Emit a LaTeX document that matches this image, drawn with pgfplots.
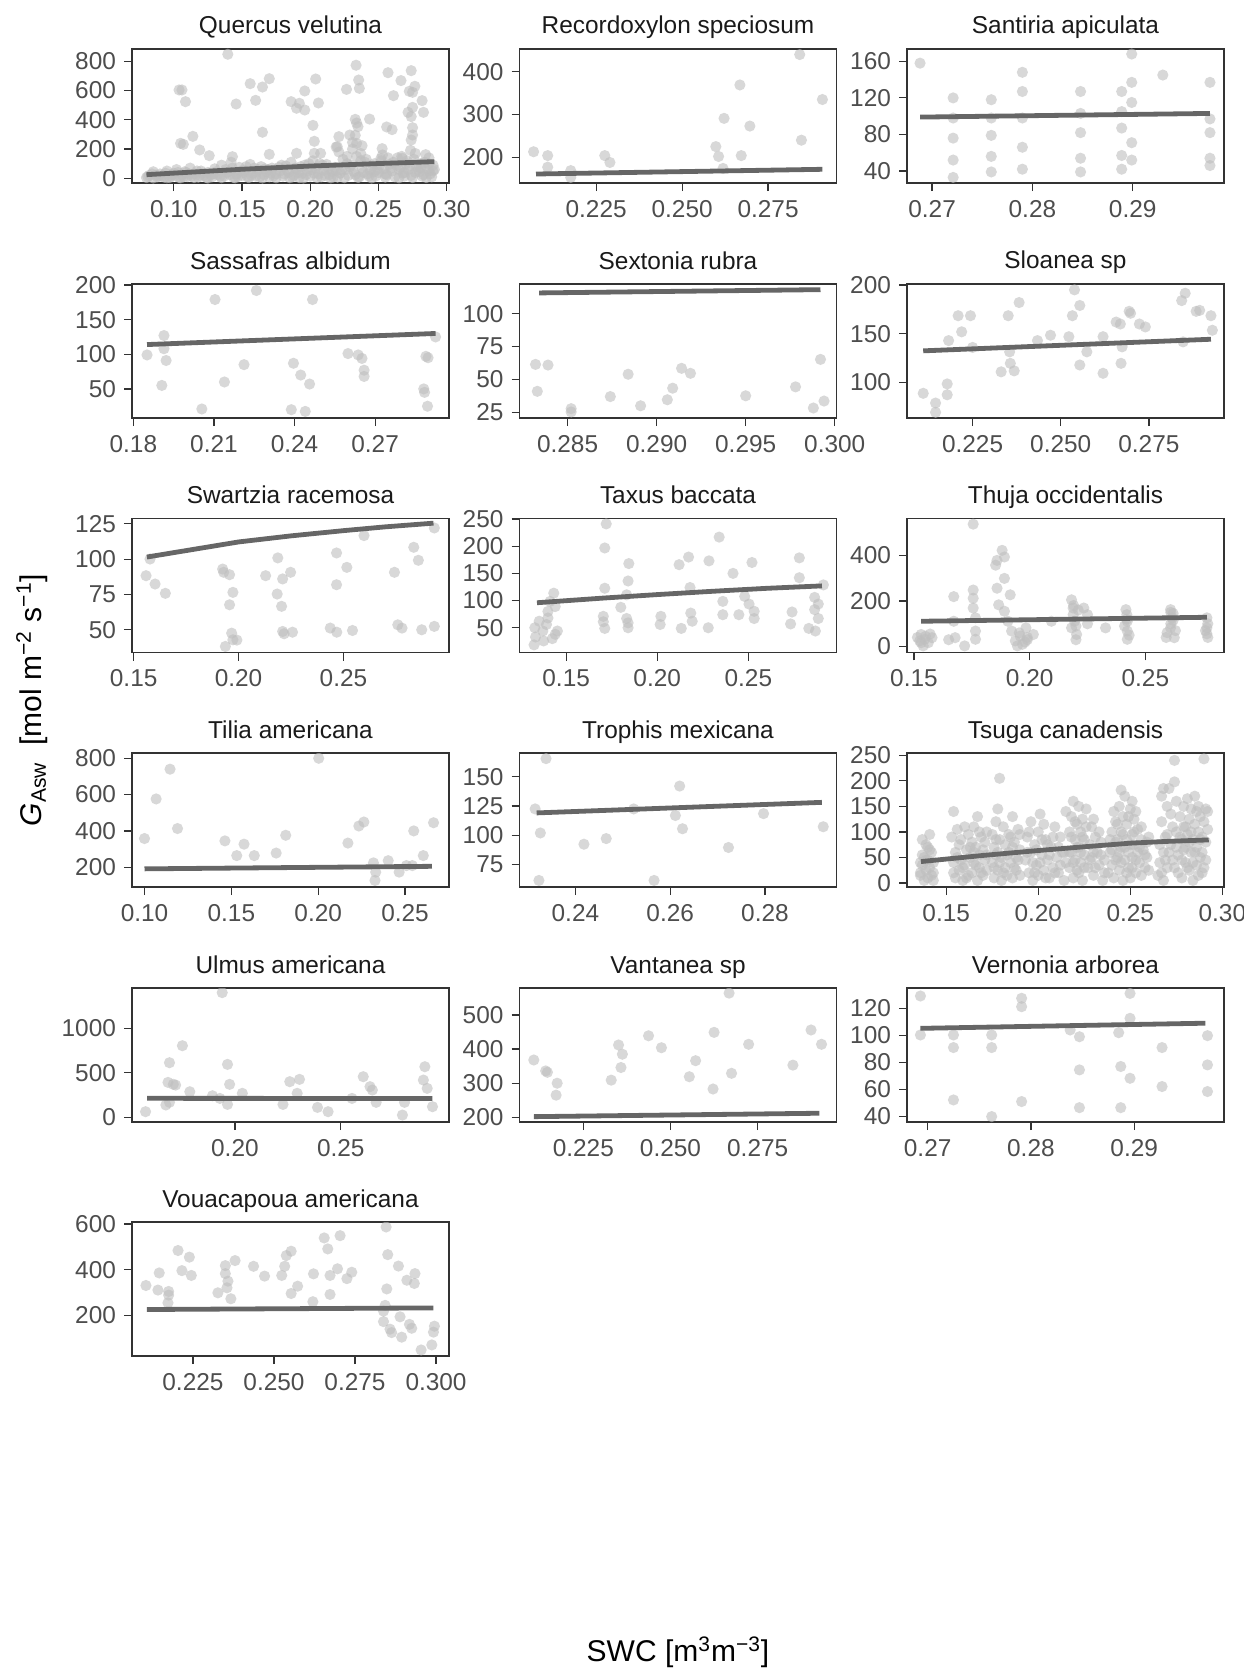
\documentclass[border=0pt]{standalone}
\usepackage{fontspec}
\setmainfont{Liberation Sans}
\usepackage{pgfplots}
\pgfplotsset{compat=1.18}

\definecolor{bordercol}{HTML}{333333}
\definecolor{ticktext}{HTML}{4D4D4D}
\definecolor{striptext}{HTML}{1A1A1A}
\definecolor{ptcol}{HTML}{BEBEBE}
\definecolor{fitcol}{HTML}{666666}

\newcommand{\smallfont}{\fontsize{12.2}{14}\selectfont}
\newcommand{\bigfont}{\fontsize{15}{18}\selectfont}

\pgfplotsset{
  facet/.style={
    scale only axis, width=158.5pt, height=67pt, anchor=north west,
    axis line style={draw=bordercol, line width=0.7pt},
    tick style={draw=bordercol, line width=0.6pt},
    tick align=outside, major tick length=4pt,
    xtick pos=lower, ytick pos=left,
    ticklabel style={font=\smallfont, text=ticktext},
    xticklabel style={yshift=-1pt},
    yticklabel style={xshift=-0.5pt},
    every axis title/.style={at={(0.5,1)}, anchor=base, yshift=7.5pt,
      font=\smallfont, text=striptext},
    clip marker paths=true,
  },
  pts/.style={only marks, mark=*, mark size=2.8pt,
    mark options={draw opacity=0, fill=ptcol, fill opacity=0.6}},
  fit/.style={no marks, fitcol, line width=2.4pt},
}

\begin{document}
\begin{tikzpicture}
\path[use as bounding box] (0,0) rectangle (621.5pt,-834.5pt);

% ---------- row 1 ----------
\begin{axis}[facet, at={(66pt,-24.5pt)}, title={Quercus velutina},
  xmin=0.0694, xmax=0.3017, ymin=-32, ymax=884,
  xtick={0.10,0.15,0.20,0.25,0.30}, xticklabels={0.10,0.15,0.20,0.25,0.30},
  ytick={0,200,400,600,800}, yticklabels={0,200,400,600,800}]
\addplot[pts] coordinates {
(0.1396,848)(0.1039,604)(0.106,604)(0.1086,524)(0.1457,508)(0.156,647)(0.160,533)
(0.165,624)(0.170,681)(0.165,315)(0.105,239)(0.107,232)(0.114,287)(0.119,194)
(0.126,155)(0.143,148)(0.170,164)(0.186,524)(0.190,479)(0.192,513)(0.196,467)
(0.196,597)(0.202,362)(0.204,679)(0.206,515)(0.203,253)(0.203,171)(0.190,171)
(0.2076,171)(0.219,214)(0.2266,608)(0.2336,773)(0.2355,672)(0.236,615)(0.233,403)
(0.234,378)(0.235,353)(0.229,296)(0.233,294)(0.231,246)(0.234,239)(0.238,223)
(0.2435,405)(0.221,285)(0.2198,216)(0.2527,203)(0.257,722)(0.261,565)(0.256,351)
(0.260,333)(0.2665,668)(0.274,736)(0.2726,595)(0.275,588)(0.2767,629)(0.2717,451)
(0.275,485)(0.282,531)(0.283,451)(0.274,422)(0.275,346)(0.275,296)(0.274,262)
(0.2735,191)(0.2846,162)(0.287,52)(0.2675,137)(0.2517,134)
(0.08,5)(0.082,20)(0.085,45)(0.088,10)(0.09,30)(0.093,8)(0.095,50)(0.098,15)
(0.10,35)(0.102,60)(0.104,5)(0.106,25)(0.108,45)(0.11,12)(0.112,70)(0.115,30)
(0.118,8)(0.12,50)(0.122,20)(0.125,40)(0.128,10)(0.13,65)(0.132,25)(0.135,90)
(0.137,15)(0.14,45)(0.142,110)(0.144,5)(0.146,30)(0.148,75)(0.15,20)(0.152,55)
(0.154,10)(0.156,95)(0.158,35)(0.16,15)(0.162,60)(0.164,80)(0.166,25)(0.168,45)
(0.17,10)(0.172,70)(0.175,30)(0.178,50)(0.18,15)(0.182,85)(0.184,40)(0.186,110)
(0.188,20)(0.19,60)(0.192,5)(0.194,35)(0.196,90)(0.198,50)(0.20,15)(0.202,120)
(0.204,70)(0.206,30)(0.208,10)(0.21,55)(0.212,95)(0.214,25)(0.216,45)(0.218,75)
(0.22,8)(0.222,35)(0.224,130)(0.226,60)(0.228,20)(0.23,90)(0.232,45)(0.234,150)
(0.236,10)(0.238,70)(0.24,110)(0.242,30)(0.244,55)(0.246,85)(0.248,15)(0.25,40)
(0.252,120)(0.254,65)(0.256,25)(0.258,95)(0.26,50)(0.262,10)(0.264,140)(0.266,75)
(0.268,35)(0.27,100)(0.272,60)(0.274,20)(0.276,130)(0.278,80)(0.28,45)(0.282,15)
(0.284,110)(0.286,65)(0.288,30)(0.29,50)(0.29,90)(0.285,5)(0.275,5)(0.265,3)
(0.255,8)(0.245,2)(0.235,6)(0.225,4)(0.215,3)(0.205,5)(0.195,2)(0.185,4)(0.175,3)
(0.165,2)(0.155,5)(0.145,3)(0.135,4)(0.125,2)(0.115,5)(0.105,3)(0.095,4)(0.085,2)
(0.221,180)(0.227,150)(0.231,200)(0.237,170)(0.241,130)(0.247,100)(0.253,160)
(0.257,140)(0.263,90)(0.267,150)(0.271,120)(0.277,170)(0.281,100)(0.287,140)
(0.279,60)(0.269,40)(0.259,70)(0.249,60)(0.239,40)(0.229,80)(0.219,50)(0.209,90)
(0.199,100)(0.189,70)(0.179,90)(0.169,60)(0.159,70)(0.149,50)(0.139,40)(0.129,30)
(0.119,20)(0.109,40)(0.099,25)(0.089,15)
(0.081,12)(0.084,30)(0.087,22)(0.091,15)(0.094,35)(0.097,5)(0.101,20)(0.103,40)
(0.107,10)(0.111,30)(0.113,15)(0.117,50)(0.121,35)(0.124,5)(0.127,25)(0.131,45)
(0.134,15)(0.138,60)(0.141,25)(0.143,70)(0.147,12)(0.151,40)(0.153,80)(0.157,20)
(0.161,45)(0.163,10)(0.167,65)(0.171,35)(0.173,15)(0.177,75)(0.181,30)(0.183,55)
(0.187,10)(0.191,40)(0.193,80)(0.197,25)(0.201,60)(0.203,35)(0.207,100)(0.211,20)
(0.213,65)(0.217,10)(0.223,55)(0.227,100)(0.233,25)(0.237,120)(0.243,15)(0.247,45)
(0.251,90)(0.255,30)(0.261,110)(0.265,60)(0.269,15)(0.273,85)(0.277,40)(0.281,70)
(0.283,25)(0.287,100)(0.289,10)(0.291,60)
};
\addplot[fit] coordinates {(0.08,25)(0.15,62)(0.20,84)(0.25,101)(0.291,114)};
\end{axis}

\begin{axis}[facet, at={(259.75pt,-24.5pt)}, title={Recordoxylon speciosum},
  xmin=0.2027, xmax=0.2949, ymin=140, ymax=453,
  xtick={0.225,0.250,0.275}, xticklabels={0.225,0.250,0.275},
  ytick={200,300,400}, yticklabels={200,300,400}]
\addplot[pts] coordinates {
(0.2068,213)(0.2109,204)(0.2109,177)(0.2176,169)(0.2176,153)(0.2275,204)(0.229,188)
(0.2598,225)(0.2606,202)(0.2622,291)(0.2619,174)(0.2668,369)(0.2672,204)(0.2697,273)
(0.2842,440)(0.2847,240)(0.2908,335)
};
\addplot[fit] coordinates {(0.2075,161)(0.2908,172)};
\end{axis}

\begin{axis}[facet, at={(453.5pt,-24.5pt)}, title={Santiria apiculata},
  xmin=0.2675, xmax=0.2991, ymin=26.9, ymax=173.5,
  xtick={0.27,0.28,0.29}, xticklabels={0.27,0.28,0.29},
  ytick={40,80,120,160}, yticklabels={40,80,120,160}]
\addplot[pts] coordinates {
(0.2688,158)(0.2721,120)(0.2721,98)(0.2721,76)(0.2721,52)(0.2721,33)
(0.2759,118)(0.2759,98)(0.2759,79)(0.2759,56)(0.2759,39)
(0.2790,148)(0.2790,127)(0.2790,98)(0.2790,66)(0.2790,42)
(0.2848,127)(0.2848,103)(0.2848,82)(0.2848,54)(0.2848,39)
(0.2889,127)(0.2889,105)(0.2889,87)(0.2889,57)(0.2889,42)
(0.2899,168)(0.2899,137)(0.2899,115)(0.2899,71)(0.2899,52)
(0.2930,145)(0.2977,137)(0.2977,97)(0.2977,82)(0.2977,54)(0.2977,46)
};
\addplot[fit] coordinates {(0.2688,99)(0.2977,103)};
\end{axis}

% ---------- row 2 ----------
\begin{axis}[facet, at={(66pt,-142pt)}, title={Sassafras albidum},
  xmin=0.1795, xmax=0.2975, ymin=8, ymax=201.4,
  xtick={0.18,0.21,0.24,0.27}, xticklabels={0.18,0.21,0.24,0.27},
  ytick={50,100,150,200}, yticklabels={50,100,150,200}]
\addplot[pts] coordinates {
(0.1851,99)(0.1914,127)(0.1914,108)(0.1922,91)(0.1906,55)(0.2104,179)(0.2055,21)
(0.2139,60)(0.2212,85)(0.2258,192)(0.2388,20)(0.2440,17.5)(0.2396,87)(0.2423,70)
(0.2456,57)(0.2467,179)(0.2599,101)(0.2637,99)(0.2651,94)(0.2659,77)(0.2659,68)
(0.2889,97)(0.2897,95)(0.2881,50)(0.2884,45)(0.2895,25)(0.2925,125)
};
\addplot[fit] coordinates {(0.1851,114)(0.2925,130)};
\end{axis}

\begin{axis}[facet, at={(259.75pt,-142pt)}, title={Sextonia rubra},
  xmin=0.2823, xmax=0.3001, ymin=20.7, ymax=122.7,
  xtick={0.285,0.290,0.295,0.300}, xticklabels={0.285,0.290,0.295,0.300},
  ytick={25,50,75,100}, yticklabels={25,50,75,100}]
\addplot[pts] coordinates {
(0.2832,61.5)(0.2839,61)(0.2833,41)(0.2852,27.8)(0.2852,25.3)(0.2874,37)(0.2884,54)
(0.2891,30)(0.2906,34.6)(0.2909,43.4)(0.2914,58.5)(0.2919,54.7)(0.2950,37.6)
(0.2978,44.4)(0.2988,28.3)(0.2992,65.3)(0.2994,33.6)
};
\addplot[fit] coordinates {(0.2834,115.9)(0.2992,118.4)};
\end{axis}

\begin{axis}[facet, at={(453.5pt,-142pt)}, title={Sloanea sp},
  xmin=0.2064, xmax=0.2963, ymin=63.7, ymax=201,
  xtick={0.225,0.250,0.275}, xticklabels={0.225,0.250,0.275},
  ytick={100,150,200}, yticklabels={100,150,200}]
\addplot[pts] coordinates {
(0.2110,89)(0.2145,79)(0.2145,69.5)(0.2178,87.5)(0.2178,98.6)(0.2182,143)(0.2219,152)
(0.2209,168.5)(0.2244,168.5)(0.2250,136)(0.2331,111)(0.2351,168.5)(0.2355,131.5)
(0.2357,119.7)(0.2368,112)(0.2382,182)(0.2434,143)(0.2471,148.5)(0.2523,147)
(0.2533,168.5)(0.2539,195)(0.2554,179)(0.2554,118)(0.2574,131.5)(0.2620,147)
(0.2620,109.5)(0.2657,162)(0.2669,160)(0.2674,136.6)(0.2671,119.7)(0.2694,173)
(0.2698,171)(0.2723,160)(0.2740,157)(0.2843,184)(0.2853,191.5)(0.2847,141.7)
(0.2884,173)(0.2894,174)(0.2926,168.5)(0.2930,153.6)
};
\addplot[fit] coordinates {(0.2110,132.5)(0.2926,144.4)};
\end{axis}

% ---------- row 3 ----------
\begin{axis}[facet, at={(66pt,-259.25pt)}, title={Swartzia racemosa},
  xmin=0.1492, xmax=0.3003, ymin=33.9, ymax=128.8,
  xtick={0.15,0.20,0.25}, xticklabels={0.15,0.20,0.25},
  ytick={50,75,100,125}, yticklabels={50,75,100,125}]
\addplot[pts] coordinates {
(0.1559,88.3)(0.1578,100.1)(0.1602,82.4)(0.1651,75.8)(0.1924,93)(0.1929,90.7)
(0.1957,89)(0.1973,76.5)(0.1957,67.7)(0.1967,47.6)(0.1973,42.9)(0.1992,42.7)
(0.1937,38.2)(0.2129,88.3)(0.2187,100.9)(0.2210,86)(0.2248,90.7)(0.2184,75.3)
(0.2205,66.6)(0.2210,48.8)(0.2217,47.2)(0.2257,48.3)(0.2467,104.4)(0.2516,94.2)
(0.2467,81.9)(0.2437,51.2)(0.2468,48.3)(0.2543,49.5)(0.2598,116.7)(0.2743,90.7)
(0.2759,53.5)(0.2779,51.2)(0.2835,108.4)(0.2857,99.2)(0.2873,50)(0.2933,52.4)
(0.2933,122.1)
};
\addplot[fit] coordinates {(0.1563,101.5)(0.18,107.3)(0.20,112.2)(0.225,116.5)(0.25,120.2)(0.27,122.9)(0.2929,125.5)};
\end{axis}

\begin{axis}[facet, at={(259.75pt,-259.25pt)}, title={Taxus baccata},
  xmin=0.1244, xmax=0.2984, ymin=4.5, ymax=250.9,
  xtick={0.15,0.20,0.25}, xticklabels={0.15,0.20,0.25},
  ytick={50,100,150,200,250}, yticklabels={50,100,150,200,250}]
\addplot[pts] coordinates {
(0.1324,18.5)(0.1332,33)(0.1328,50)(0.1352,62)(0.1372,44)(0.140,68)(0.140,80)
(0.1412,98.5)(0.1432,113.6)(0.1440,89)(0.1440,38)(0.1424,30)(0.1452,44)(0.1392,56)
(0.1376,25.8)(0.1712,48.8)(0.1704,61)(0.1704,71)(0.1712,122.7)(0.172,241)
(0.1712,196.7)(0.180,87.6)(0.1832,110.6)(0.1844,168)(0.1840,136)(0.1832,67)
(0.1840,59)(0.1840,50)(0.202,71)(0.2016,56)(0.2132,48.8)(0.212,166)(0.2172,180)
(0.218,124)(0.2184,77)(0.2192,62)(0.2284,173)(0.228,50)(0.2340,216.7)(0.2360,98.5)
(0.2360,74)(0.2416,150)(0.2448,74)(0.248,107.6)(0.2504,93.6)(0.252,170)(0.2532,80.3)
(0.2532,67)(0.2732,57)(0.2740,79)(0.2780,142)(0.2780,178.5)(0.2832,48.8)(0.2864,83.3)
(0.2864,105.8)(0.2884,93.6)(0.2868,44)(0.2884,67)(0.2912,128.8)
};
\addplot[fit] coordinates {(0.134,96)(0.17,104.5)(0.20,111)(0.23,117)(0.26,122.5)(0.2904,127)};
\end{axis}

\begin{axis}[facet, at={(453.5pt,-259.25pt)}, title={Thuja occidentalis},
  xmin=0.147, xmax=0.284, ymin=-26, ymax=561.7,
  xtick={0.15,0.20,0.25}, xticklabels={0.15,0.20,0.25},
  ytick={0,200,400}, yticklabels={0,200,400}]
\addplot[pts] coordinates {
(0.1531,17)(0.1531,53)(0.1547,32)(0.1562,17)(0.1578,39)(0.1540,3)(0.1515,40)(0.1525,25)
(0.1672,219)(0.1672,111)(0.1678,39)(0.1719,3)(0.1756,537)(0.1756,248)(0.1756,212)
(0.1756,169)(0.1766,126)(0.1766,68)(0.1766,32)(0.1853,357)(0.1859,378)(0.1881,422)
(0.1891,393)(0.1891,299)(0.1859,256)(0.1866,183)(0.1916,227)(0.1891,155)(0.1906,111)
(0.1922,68)(0.1938,25)(0.1959,46)(0.1969,10)(0.1947,3)(0.1984,82)(0.2016,53)
(0.2094,111)(0.2181,205)(0.2188,169)(0.2188,140)(0.2194,111)(0.2181,82)(0.2203,53)
(0.2234,169)(0.2250,140)(0.2328,82)(0.2416,162)(0.2422,111)(0.2422,68)(0.2422,32)
(0.2609,162)(0.2616,126)(0.2609,82)(0.2625,39)(0.2594,61)(0.2766,126)(0.2766,82)
(0.2766,56)(0.1980,20)(0.1990,40)(0.2200,90)(0.2420,140)(0.2610,100)(0.2620,145)
(0.219,180)(0.221,160)(0.220,30)(0.225,100)(0.242,120)(0.241,90)(0.243,50)
(0.261,150)(0.262,115)(0.263,70)(0.259,40)(0.277,100)(0.276,70)(0.277,40)
(0.165,30)(0.157,55)(0.155,45)(0.1955,60)(0.199,30)
};
\addplot[fit] coordinates {(0.1531,111)(0.2766,128.5)};
\end{axis}

% ---------- row 4 ----------
\begin{axis}[facet, at={(66pt,-376.5pt)}, title={Tilia americana},
  xmin=0.0928, xmax=0.2753, ymin=91, ymax=829,
  xtick={0.10,0.15,0.20,0.25}, xticklabels={0.10,0.15,0.20,0.25},
  ytick={200,400,600,800}, yticklabels={200,400,600,800}]
\addplot[pts] coordinates {
(0.10,358)(0.1067,576)(0.1147,740)(0.119,413)(0.1463,345)(0.1531,264)(0.1573,327)
(0.1632,264)(0.1758,278)(0.1813,376)(0.2003,800)(0.2171,333)(0.2234,427)(0.2263,449)
(0.2318,224)(0.2331,173)(0.2327,127)(0.2403,236)(0.2466,173)(0.2508,209)(0.2542,209)
(0.2550,400)(0.2605,264)(0.2664,445)
};
\addplot[fit] coordinates {(0.10,191)(0.2655,205)};
\end{axis}

\begin{axis}[facet, at={(259.75pt,-376.5pt)}, title={Trophis mexicana},
  xmin=0.2282, xmax=0.2951, ymin=55.9, ymax=170.2,
  xtick={0.24,0.26,0.28}, xticklabels={0.24,0.26,0.28},
  ytick={75,100,125,150}, yticklabels={75,100,125,150}]
\addplot[pts] coordinates {
(0.2315,122.5)(0.2326,102)(0.2338,165.4)(0.2323,61.5)(0.2418,92.4)(0.2465,97.2)
(0.2523,122.5)(0.2566,61.5)(0.2611,116.9)(0.2620,142)(0.2626,105.6)(0.2723,89.6)
(0.2797,118.5)(0.2923,107.3)
};
\addplot[fit] coordinates {(0.2318,119.1)(0.2920,128.1)};
\end{axis}

\begin{axis}[facet, at={(453.5pt,-376.5pt)}, title={Tsuga canadensis},
  xmin=0.1287, xmax=0.3009, ymin=-7.8, ymax=254.5,
  xtick={0.15,0.20,0.25,0.30}, xticklabels={0.15,0.20,0.25,0.30},
  ytick={0,50,100,150,200,250}, yticklabels={0,50,100,150,200,250}]
\addplot[pts] coordinates {
(0.136,15)(0.137,35)(0.137,55)(0.138,5)(0.139,25)(0.139,75)(0.140,45)(0.140,10)
(0.141,95)(0.141,30)(0.142,60)(0.142,15)(0.143,40)(0.143,5)(0.138,50)(0.140,70)(0.136,20)
(0.153,90)(0.154,40)(0.154,140)(0.155,10)(0.155,60)(0.156,105)(0.157,25)(0.157,75)
(0.158,45)(0.159,5)(0.160,110)(0.160,35)(0.161,65)(0.162,15)(0.162,95)(0.163,50)
(0.164,80)(0.164,20)(0.165,110)(0.165,40)(0.166,70)(0.167,5)(0.167,130)(0.168,55)
(0.168,30)(0.169,90)(0.170,15)(0.170,65)(0.171,45)(0.172,100)(0.172,25)
(0.175,95)(0.175,40)(0.176,10)(0.176,70)(0.177,120)(0.177,55)(0.178,25)(0.178,145)
(0.179,85)(0.180,5)(0.180,50)(0.181,110)(0.182,30)(0.182,75)(0.183,15)(0.184,95)
(0.184,60)(0.185,40)(0.186,130)(0.186,10)(0.187,80)(0.188,50)(0.188,25)(0.189,105)
(0.190,65)(0.190,15)(0.179,205)
(0.193,45)(0.194,90)(0.195,20)(0.196,120)(0.196,60)(0.197,5)(0.198,75)(0.199,35)
(0.200,100)(0.200,15)(0.201,135)(0.202,55)(0.203,25)(0.204,85)(0.205,45)(0.206,10)
(0.207,70)(0.208,30)(0.209,110)(0.210,50)(0.211,20)(0.212,90)(0.213,60)(0.214,5)
(0.215,40)(0.215,140)(0.203,115)
(0.217,100)(0.217,30)(0.218,130)(0.218,60)(0.219,160)(0.219,10)(0.220,85)(0.220,45)
(0.221,115)(0.221,25)(0.222,150)(0.222,70)(0.223,40)(0.223,100)(0.224,5)(0.224,125)
(0.225,55)(0.225,85)(0.226,145)
(0.227,30)(0.228,75)(0.229,110)(0.229,50)(0.230,15)(0.231,90)(0.232,60)(0.233,35)
(0.234,80)(0.235,5)(0.236,45)(0.230,125)
(0.238,20)(0.239,60)(0.240,100)(0.240,35)(0.241,140)(0.241,10)(0.242,80)(0.243,50)
(0.243,115)(0.244,25)(0.244,150)(0.245,70)(0.245,100)(0.246,5)(0.246,130)(0.247,45)
(0.247,170)(0.248,85)(0.248,115)(0.249,30)(0.249,60)(0.250,145)(0.250,10)(0.251,95)
(0.251,50)(0.252,75)(0.252,125)(0.253,20)(0.254,60)(0.254,105)(0.255,40)(0.256,85)
(0.256,15)(0.257,65)(0.258,30)(0.259,50)(0.260,90)(0.245,182)(0.251,160)
(0.265,15)(0.266,40)(0.267,120)(0.267,170)(0.268,60)(0.268,5)(0.269,90)(0.270,150)
(0.270,30)(0.271,185)(0.272,75)(0.272,135)(0.273,45)(0.274,240)(0.274,198)(0.275,100)
(0.275,160)(0.276,20)(0.276,55)(0.277,130)(0.278,85)(0.278,10)(0.279,110)(0.279,150)
(0.280,40)(0.280,70)(0.281,165)(0.281,95)(0.282,25)(0.282,125)(0.283,60)(0.283,145)
(0.284,5)(0.284,85)(0.285,115)(0.285,170)(0.286,35)(0.286,70)(0.287,100)(0.287,150)
(0.288,50)(0.288,130)(0.289,20)(0.289,90)(0.290,243)(0.290,120)(0.291,145)(0.291,45)
(0.292,105)(0.268,185)
(0.137,85)(0.139,45)(0.141,65)(0.143,20)(0.136,40)
(0.154,20)(0.156,50)(0.158,85)(0.159,30)(0.161,10)(0.163,70)(0.165,60)(0.166,35)
(0.168,100)(0.169,20)(0.171,80)(0.172,55)
(0.176,30)(0.177,85)(0.178,60)(0.179,40)(0.181,20)(0.183,55)(0.185,90)(0.186,70)
(0.187,30)(0.189,45)(0.190,95)
(0.194,60)(0.195,100)(0.197,40)(0.198,20)(0.199,65)(0.201,40)(0.202,85)(0.204,10)
(0.205,75)(0.206,55)(0.208,90)(0.209,20)(0.211,70)(0.212,35)(0.214,60)
(0.217,60)(0.218,90)(0.219,40)(0.220,120)(0.221,70)(0.222,20)(0.223,60)(0.224,90)
(0.225,30)(0.226,110)
(0.228,45)(0.230,60)(0.231,30)(0.233,100)(0.234,55)(0.236,20)
(0.239,85)(0.240,65)(0.242,45)(0.242,120)(0.243,85)(0.244,60)(0.245,40)(0.246,95)
(0.247,70)(0.248,20)(0.249,130)(0.250,75)(0.251,30)(0.252,100)(0.253,45)(0.253,140)
(0.255,70)(0.256,110)(0.258,55)(0.259,80)(0.260,25)
(0.266,75)(0.267,20)(0.269,45)(0.270,95)(0.271,60)(0.273,110)(0.274,30)(0.275,70)
(0.277,90)(0.278,45)(0.279,65)(0.280,110)(0.281,30)(0.282,80)(0.283,100)(0.284,40)
(0.285,60)(0.286,140)(0.287,15)(0.288,85)(0.289,60)(0.290,30)(0.291,80)(0.292,140)
};
\addplot[fit] coordinates {(0.1363,42)(0.17,54)(0.20,63.6)(0.225,71)(0.25,78)(0.27,81.5)(0.2926,84.4)};
\end{axis}

% ---------- row 5 ----------
\begin{axis}[facet, at={(66pt,-494pt)}, title={Ulmus americana},
  xmin=0.1514, xmax=0.3011, ymin=-52, ymax=1453,
  xtick={0.20,0.25}, xticklabels={0.20,0.25},
  ytick={0,500,1000}, yticklabels={0,500,1000}]
\addplot[pts] coordinates {
(0.1578,64)(0.1674,139)(0.1691,169)(0.1691,614)(0.1684,393)(0.1709,371)(0.1720,363)
(0.1752,805)(0.1787,288)(0.1894,243)(0.1929,213)(0.1940,1401)(0.1965,595)(0.1975,371)
(0.1965,146)(0.2035,270)(0.2227,146)(0.2259,401)(0.2305,427)(0.2294,270)(0.2390,112)
(0.2440,64)(0.2553,213)(0.2606,457)(0.2638,345)(0.2649,307)(0.2667,169)(0.2801,169)
(0.2791,26)(0.2897,569)(0.2890,419)(0.2908,326)(0.2933,120)
};
\addplot[fit] coordinates {(0.1585,214)(0.2933,212)};
\end{axis}

\begin{axis}[facet, at={(259.75pt,-494pt)}, title={Vantanea sp},
  xmin=0.2067, xmax=0.2976, ymin=186.3, ymax=579,
  xtick={0.225,0.250,0.275}, xticklabels={0.225,0.250,0.275},
  ytick={200,300,400,500}, yticklabels={200,300,400,500}]
\addplot[pts] coordinates {
(0.2108,368)(0.2142,336)(0.2147,332)(0.2175,300)(0.2172,265)(0.2330,309)(0.2351,412)
(0.2362,385)(0.2358,346)(0.2437,439)(0.2474,404)(0.2554,319)(0.2572,366)(0.2622,283)
(0.2625,449)(0.2668,564)(0.2675,329)(0.2724,414)(0.2851,353)(0.2903,456)(0.2933,414)
};
\addplot[fit] coordinates {(0.2108,202)(0.2927,212)};
\end{axis}

\begin{axis}[facet, at={(453.5pt,-494pt)}, title={Vernonia arborea},
  xmin=0.268, xmax=0.2987, ymin=36, ymax=135,
  xtick={0.27,0.28,0.29}, xticklabels={0.27,0.28,0.29},
  ytick={40,60,80,100,120}, yticklabels={40,60,80,100,120}]
\addplot[pts] coordinates {
(0.2693,129.1)(0.2693,100.3)(0.2725,100.3)(0.2725,91)(0.2725,52.3)(0.2762,100.3)
(0.2762,91)(0.2762,40)(0.2791,127.4)(0.2791,121.2)(0.2791,51.1)(0.2838,104)
(0.2847,99)(0.2847,74.5)(0.2847,46.6)(0.2885,102)(0.2887,77)(0.2887,46.6)
(0.2896,131)(0.2896,112.6)(0.2896,68.3)(0.2927,91)(0.2927,62.2)(0.2971,99.8)
(0.2971,78.2)(0.2971,58.5)
};
\addplot[fit] coordinates {(0.2693,105.2)(0.2969,109)};
\end{axis}

% ---------- row 6 ----------
\begin{axis}[facet, at={(66pt,-611pt)}, title={Vouacapoua americana},
  xmin=0.2062, xmax=0.304, ymin=22.5, ymax=608.7,
  xtick={0.225,0.250,0.275,0.300}, xticklabels={0.225,0.250,0.275,0.300},
  ytick={200,400,600}, yticklabels={200,400,600}]
\addplot[pts] coordinates {
(0.2105,331)(0.2142,311)(0.2146,386)(0.2175,305)(0.2175,289)(0.2173,255)(0.2204,484)
(0.2216,396)(0.2239,455)(0.2245,375)(0.2327,299)(0.2350,418)(0.2350,383)(0.2358,350)
(0.2355,321)(0.2367,273)(0.2380,440)(0.2437,415)(0.2471,372)(0.2524,375)(0.2533,415)
(0.2538,462)(0.2553,481)(0.2553,296)(0.2573,328)(0.2620,260)(0.2622,382)(0.2655,539)
(0.2666,491)(0.2673,375)(0.2673,292)(0.2696,404)(0.2704,549)(0.2725,361)(0.2740,389)
(0.2846,587)(0.2851,466)(0.2848,316)(0.2843,244)(0.2838,219)(0.2838,173)(0.2858,140)
(0.2863,125)(0.2884,416)(0.2889,194)(0.2894,105)(0.2910,354)(0.2918,161)(0.2925,144)
(0.2935,383)(0.2933,340)(0.2954,49)(0.2987,71)(0.2992,127)(0.2995,153)
};
\addplot[fit] coordinates {(0.2108,226)(0.2992,233)};
\end{axis}

% ---------- shared axis titles ----------
\node[rotate=90, font=\bigfont, text=black] at (16pt,-350pt)
  {\itshape G\upshape\textsubscript{Asw}\ \ [mol m\textsuperscript{−2} s\textsuperscript{−1}]};
\node[font=\bigfont, text=black] at (339pt,-826pt)
  {SWC [m\textsuperscript{3}m\textsuperscript{−3}]};
\end{tikzpicture}
\end{document}
